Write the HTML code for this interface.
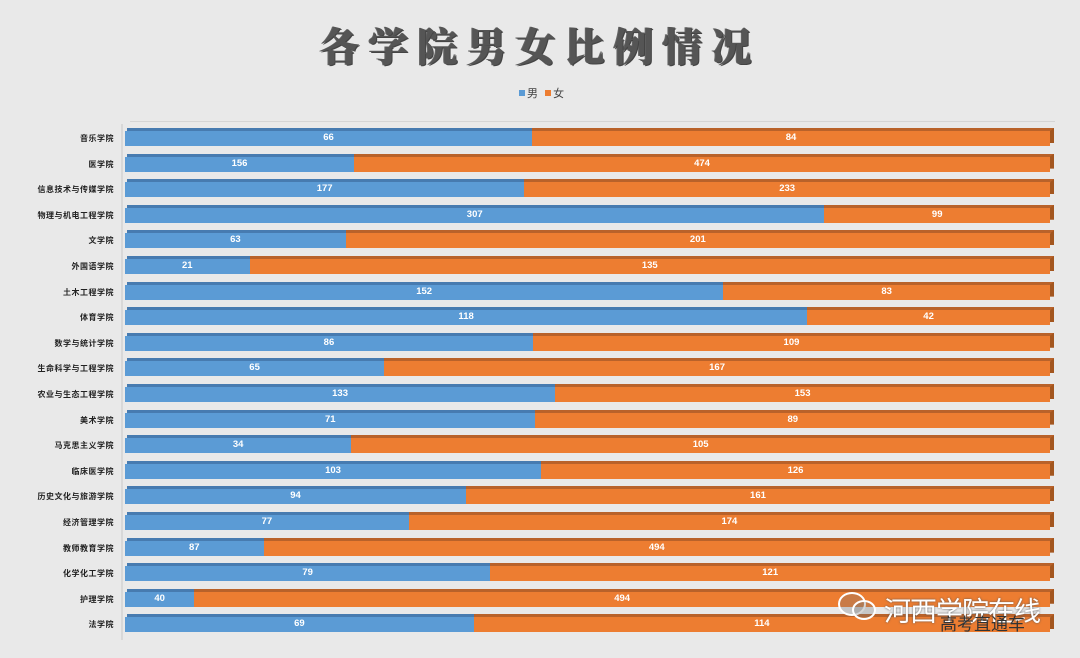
<!DOCTYPE html>
<html><head><meta charset="utf-8"><style>
body{margin:0;width:1080px;height:658px;background:#e9e9e9;overflow:hidden;position:relative;font-family:"Liberation Sans","Noto Sans CJK SC",sans-serif}
.title{position:absolute;top:16px;left:0;width:1080px;text-align:center;font-size:40px;font-weight:900;color:#555;letter-spacing:9px;font-family:"Noto Serif CJK SC","WenQuanYi Zen Hei",serif;text-shadow:1px 1px 0 #444,-1px 0 0 #666}
.leg{position:absolute;top:85px;font-size:11px;color:#444}
.leg i{display:inline-block;width:6px;height:6px;margin-right:2px;vertical-align:1px}
.lab{position:absolute;right:966px;font-size:8px;font-weight:bold;color:#222;letter-spacing:0.5px;white-space:nowrap;margin-top:2px}
.bar{position:absolute;left:125px;width:925px;height:15px}
.bar .b{position:absolute;left:0;top:0;height:15px;background:#5b9bd5}
.bar .o{position:absolute;top:0;right:0;height:15px;background:#ed7d31}
.bar .tb{position:absolute;left:2px;top:-3px;height:3px;background:#477bb0}
.bar .to{position:absolute;top:-3px;right:-4px;height:3px;background:#b9622a}
.bar .s{position:absolute;right:-4px;top:-3px;width:4px;height:15px;background:#a3561f;clip-path:polygon(0 3px,100% 0,100% 15px,0 100%)}
.bar span{position:absolute;top:1px;font-size:9.5px;font-weight:bold;color:#fff;transform:translateX(-50%)}
.axis{position:absolute;left:121px;top:124px;width:2px;height:516px;background:#d8d8d8}
.topl{position:absolute;left:130px;top:121px;width:925px;height:1px;background:#d5d5d5}
</style></head><body>
<div class="title">各学院男女比例情况</div>
<div class="leg" style="left:519px"><i style="background:#5b9bd5"></i>男 <i style="background:#ed7d31;margin-left:4px"></i>女</div>
<div class="axis"></div><div class="topl"></div>
<div id="c"></div>
<div style="position:absolute;left:836px;top:590px;width:40px;height:32px;">
<div style="position:absolute;left:2px;top:2px;width:24px;height:20px;border:2px solid #fff;border-radius:50%;background:rgba(120,120,120,.3)"></div>
<div style="position:absolute;left:16px;top:10px;width:20px;height:16px;border:2px solid #fff;border-radius:50%;background:rgba(120,120,120,.3)"></div></div>
<div style="position:absolute;left:884px;top:590px;font-size:27px;color:#fff;text-shadow:0 0 2px #555;letter-spacing:-1px">河西学院在线</div>
<div style="position:absolute;left:940px;top:610px;font-size:17px;color:#333;">高考直通车</div>
<script>
var d=[["音乐学院",66,84],["医学院",156,474],["信息技术与传媒学院",177,233],["物理与机电工程学院",307,99],["文学院",63,201],["外国语学院",21,135],["土木工程学院",152,83],["体育学院",118,42],["数学与统计学院",86,109],["生命科学与工程学院",65,167],["农业与生态工程学院",133,153],["美术学院",71,89],["马克思主义学院",34,105],["临床医学院",103,126],["历史文化与旅游学院",94,161],["经济管理学院",77,174],["教师教育学院",87,494],["化学化工学院",79,121],["护理学院",40,494],["法学院",69,114]];
var h="";
d.forEach(function(r,i){var y=131+i*25.6;var w=925*r[1]/(r[1]+r[2]);
h+='<div class="lab" style="top:'+(y-0)+'px">'+r[0]+'</div>';
h+='<div class="bar" style="top:'+y+'px"><div class="b" style="width:'+w+'px"></div><div class="o" style="width:'+(925-w)+'px"></div><div class="tb" style="width:'+(w-2)+'px"></div><div class="to" style="width:'+(929-w)+'px"></div><div class="s"></div><span style="left:'+(w/2)+'px">'+r[1]+'</span><span style="left:'+(w+(925-w)/2)+'px">'+r[2]+'</span></div>';});
document.getElementById("c").innerHTML=h;
</script>
</body></html>
